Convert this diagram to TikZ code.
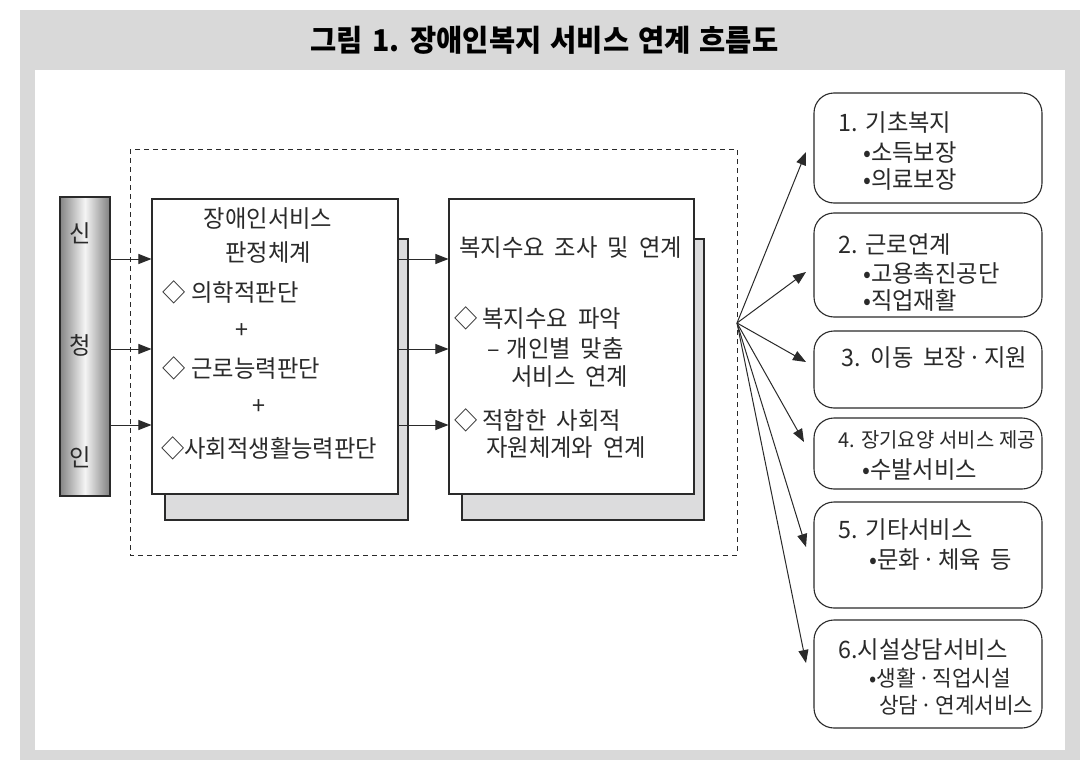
\documentclass[tikz,border=0pt]{standalone}
\usepackage{fontspec}
\setmainfont{Noto Sans CJK KR}[FakeStretch=0.97]
\newfontfamily\titlefont{Noto Sans CJK KR}[FakeStretch=0.95]
\usetikzlibrary{arrows.meta,calc}
\definecolor{framegray}{HTML}{D9D9D9}
\definecolor{shadowgray}{HTML}{DCDCDD}
\definecolor{ink}{HTML}{2A2A2A}
\newcommand\tightsp[1]{{\spaceskip=2.5pt\relax #1}}
\tikzset{
  boxline/.style={draw=ink, line width=1.1pt},
  shadowbox/.style={boxline, fill=shadowgray, inner sep=0},
  rbox/.style={boxline, fill=white, rounded corners=20pt, minimum width=228pt, inner sep=0},
  txt/.style={anchor=west, inner sep=0, font=\fontsize{24}{28}\selectfont, text=ink},
  stxt/.style={txt, font=\fontsize{22}{26}\selectfont},
  ctxt/.style={txt, anchor=center},
  arr/.style={draw=ink, line width=1pt, -{Triangle[length=13pt,width=10pt]}},
}
\begin{document}
\begin{tikzpicture}[x=1pt,y=-1pt]
\spaceskip=10pt\relax
\useasboundingbox (0,0) rectangle (1090,760);
% frame
\fill[framegray] (20,10) rectangle (1080,760);
\fill[white] (35,70) rectangle (1065,750);
\node[inner sep=0, font=\titlefont\fontsize{30}{34}\selectfont\bfseries, text=black] (title) at (549.5,40)
  {{\spaceskip=9pt\relax 그림 1. 장애인복지 서비스 연계 흐름도}};
% dashed group
\draw[ink, line width=0.9pt, dash pattern=on 5pt off 4pt] (130,149) rectangle (737,555);
% applicant bar
\node[boxline, inner sep=0, minimum width=50pt, minimum height=299pt,
  left color=black!48, right color=black!50, middle color=black!4] (bar) at (85,346.5) {};
\node[ctxt] (s1) at (85,233) {신};
\node[ctxt] (s2) at (85,345) {청};
\node[ctxt] (s3) at (85,457) {인};
% box 1
\node[shadowbox, minimum width=243pt, minimum height=281pt] (b1s) at (286.5,379.5) {};
\node[boxline, fill=white, inner sep=0, minimum width=246pt, minimum height=295pt] (b1) at (275,346.5) {};
\node[ctxt] (t11) at (273,219) {장애인서비스};
\node[ctxt] (t12) at (273,253) {판정체계};
\node[txt] (t13) at (162,292) {◇\hspace{6pt}의학적판단};
\node[ctxt] (t14) at (247,331) {+};
\node[txt] (t15) at (162,368) {◇\hspace{6pt}근로능력판단};
\node[ctxt] (t16) at (264,407) {+};
\node[txt] (t17) at (161,448) {◇사회적생활능력판단};
% box 2
\node[shadowbox, minimum width=242pt, minimum height=281pt] (b2s) at (583,379.5) {};
\node[boxline, fill=white, inner sep=0, minimum width=245pt, minimum height=295pt] (b2) at (571.5,346.5) {};
\node[txt] (t21) at (459,248) {복지수요 조사 및 연계};
\node[txt] (t22) at (454,318) {◇\hspace{5pt}복지수요 파악};
\node[txt] (t23) at (487,348) {–\hspace{7pt}개인별 맞춤};
\node[txt] (t24) at (511,377) {서비스 연계};
\node[txt] (t25) at (454,420) {◇\hspace{5pt}적합한 사회적};
\node[txt] (t26) at (486,448) {자원체계와 연계};
% arrows bar -> box1 -> box2
\coordinate (ya) at (0,259);
\coordinate (yb) at (0,349);
\coordinate (yc) at (0,425);
\draw[arr] (bar.east |- ya) -- (b1.west |- ya);
\draw[arr] (bar.east |- yb) -- (b1.west |- yb);
\draw[arr] (bar.east |- yc) -- (b1.west |- yc);
\draw[arr] (b1.east |- ya) -- (b2.west |- ya);
\draw[arr] (b1.east |- yb) -- (b2.west |- yb);
\draw[arr] (b1.east |- yc) -- (b2.west |- yc);
% right boxes
\node[rbox, minimum height=110pt] (r1) at (928,148) {};
\node[rbox, minimum height=104pt] (r2) at (928,265) {};
\node[rbox, minimum height=77pt] (r3) at (928,369.5) {};
\node[rbox, minimum height=71pt] (r4) at (928,453.5) {};
\node[rbox, minimum height=106pt] (r5) at (928,555) {};
\node[rbox, minimum height=108pt] (r6) at (928,674) {};
\node[txt] (u11) at (838,123) {1.\hspace{8pt}기초복지};
\node[txt] (u12) at (863,153) {•소득보장};
\node[txt] (u13) at (863,180) {•의료보장};
\node[txt] (u21) at (838,245) {{\spaceskip=6pt\relax 2. 근로연계}};
\node[txt] (u22) at (863,273) {•고용촉진공단};
\node[txt] (u23) at (863,300) {•직업재활};
\node[txt] (u31) at (841,358) {3.\hspace{10pt}이동 \tightsp{보장 · 지원}};
\node[txt, font=\fontsize{20.5}{24}\selectfont] (u41) at (838,440) {{\spaceskip=5pt\relax 4. 장기요양 서비스 제공}};
\node[txt] (u42) at (862,470) {•수발서비스};
\node[txt] (u51) at (838,530) {5.\hspace{8pt}기타서비스};
\node[txt] (u52) at (869,560) {•\tightsp{문화 · 체육} 등};
\node[txt] (u61) at (838,650) {6.시설상담서비스};
\node[stxt] (u62) at (869,678) {•\tightsp{생활 · 직업시설}};
\node[stxt] (u63) at (879,705) {\tightsp{상담 · 연계서비스}};
% fan arrows
\coordinate (fan) at (737,323);
\coordinate (p1) at (806,152);
\coordinate (p2) at (806,272);
\coordinate (p3) at (806,362);
\coordinate (p4) at (804,442);
\coordinate (p5) at (806,547);
\coordinate (p6) at (806,663);
\foreach \p in {p1,p2,p3,p4,p5,p6} \draw[arr] (fan) -- (\p);
\end{tikzpicture}
\end{document}
